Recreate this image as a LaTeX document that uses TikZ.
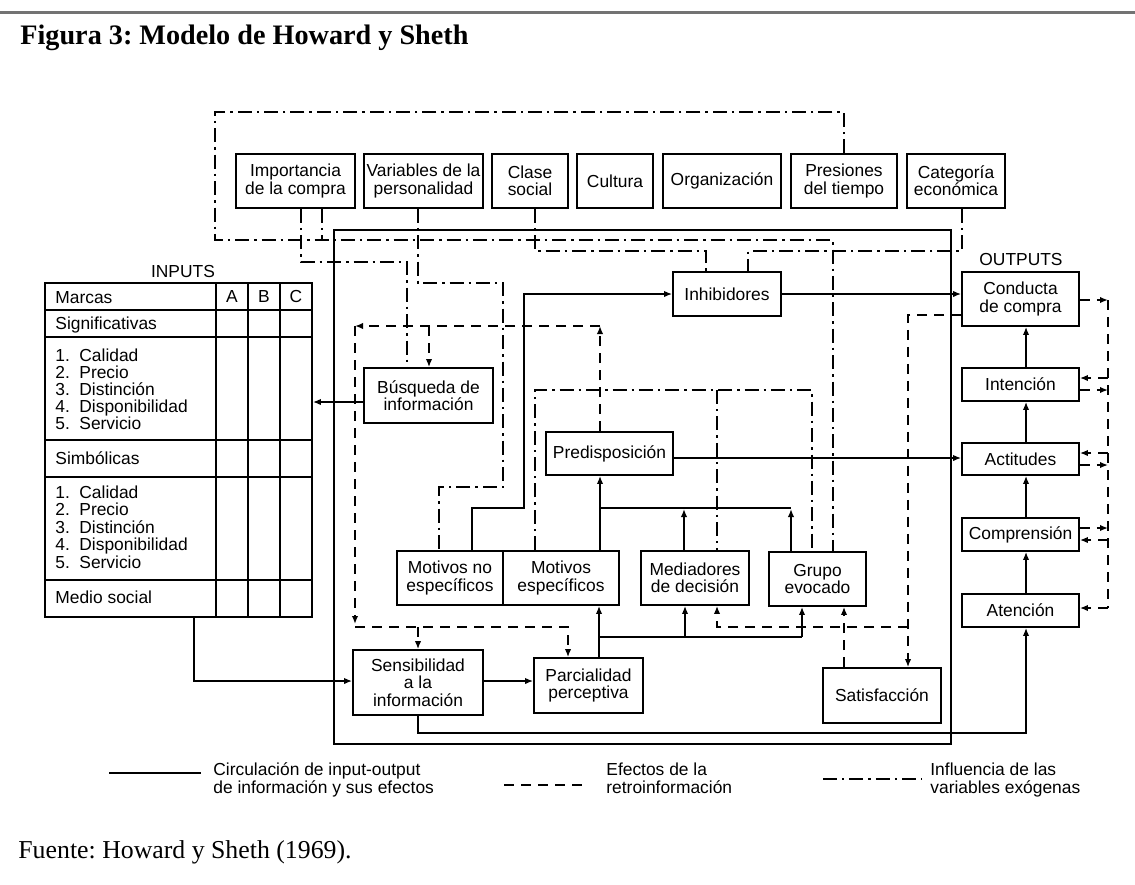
\documentclass[tikz,border=0pt]{standalone}
\usepackage{fontspec}
\setmainfont{Liberation Serif}
\newfontfamily\diagfont{Liberation Sans}
\usetikzlibrary{arrows.meta}
\frenchspacing

\begin{document}
\begin{tikzpicture}[x=0.5pt,y=-0.5pt,
  txt/.style={font=\diagfont\fontsize{8.7}{8.65}\selectfont, inner sep=0pt},
  cell/.style={txt, anchor=base west},
  box/.style={txt, draw, line width=0.9pt, align=center},
  wh/.style 2 args={minimum width=#1*0.5pt, minimum height=#2*0.5pt},
  flow/.style={line width=0.75pt},
  fb/.style={line width=0.75pt, dash pattern=on 5pt off 3.5pt},
  exo/.style={line width=0.75pt, dash pattern=on 7pt off 2.5pt on 1.2pt off 2.5pt},
  tip/.style={-{Latex[length=4pt,width=3.2pt]}}
]
\useasboundingbox (0,0) rectangle (1135,884);

% page rule, caption and source
\draw[line width=1.5pt, black!55] (0,12) -- (1135,12);
\node[anchor=base west, inner sep=0pt, font=\fontsize{14.1}{17}\selectfont\bfseries] (title) at (20,44) {Figura 3: Modelo de Howard y Sheth};
\node[anchor=base west, inner sep=0pt, font=\fontsize{12.9}{15}\selectfont] (src) at (18,858) {Fuente: Howard y Sheth (1969).};

% exogenous variables
\node[box, wh={119}{54}] (imp) at (295.5,181) {Importancia\\de la compra};
\node[box, wh={119}{54}] (var) at (423.5,181) {Variables de la\\personalidad};
\node[box, wh={76}{54}]  (cla) at (530,181) {Clase\\social};
\node[box, wh={76}{54}]  (cul) at (615,181) {Cultura};
\node[box, wh={118}{54}] (org) at (722,181) {Organización};
\node[box, wh={106}{54}] (pre) at (844,181) {Presiones\\del tiempo};
\node[box, wh={98}{54}]  (cat) at (956,181) {Categoría\\económica};

% inner frame of the buyer
\draw[line width=0.9pt] (334,230) rectangle (951,744);

% internal constructs
\node[box, wh={108}{44}] (inh) at (727,294) {Inhibidores};
\node[box, wh={129}{55}] (bus) at (428.5,395.5) {Búsqueda de\\información};
\node[box, wh={127}{43}] (prd) at (609.5,453.5) {Predisposición};
\node[box, wh={106}{54}] (mne) at (450,578) {Motivos no\\específicos};
\node[box, wh={116}{54}] (mes) at (561,578) {Motivos\\específicos};
\node[box, wh={108}{54}] (med) at (695,578) {Mediadores\\de decisión};
\node[box, wh={97}{54}]  (gru) at (817.5,579) {Grupo\\evocado};
\node[box, wh={130}{65}] (sen) at (418,682.5) {Sensibilidad\\a la\\información};
\node[box, wh={109}{55}] (par) at (588.5,685.5) {Parcialidad\\perceptiva};
\node[box, wh={118}{55}] (sat) at (882,695.5) {Satisfacción};

% outputs
\node[txt] (outl) at (1021,260) {OUTPUTS};
\node[box, wh={117}{54}] (con) at (1020.5,299) {Conducta\\de compra};
\node[box, wh={117}{33}] (int) at (1020.5,384.5) {Intención};
\node[box, wh={117}{32}] (act) at (1020.5,459) {Actitudes};
\node[box, wh={117}{33}] (com) at (1020.5,534.5) {Comprensión};
\node[box, wh={117}{33}] (ate) at (1020.5,610.5) {Atención};

% inputs table
\node[txt] (inl) at (183,272) {INPUTS};
\node[draw, line width=0.9pt, wh={267}{334}, inner sep=0pt] (tab) at (178.5,450) {};
\foreach \yy in {310,337,440,477,580} \draw[line width=0.9pt] (tab.west |- 0,\yy) -- (tab.east |- 0,\yy);
\foreach \xx in {216,248,280} \draw[line width=0.9pt] (tab.north -| \xx,0) -- (tab.south -| \xx,0);
\node[cell] (tmar) at (55,303) {Marcas};
\node[txt] (ta) at (232,297) {A};
\node[txt] (tb) at (264,297) {B};
\node[txt] (tc) at (296,297) {C};
\node[cell] (tsig) at (55,329) {Significativas};
\node[cell] (tsim) at (55,464) {Simbólicas};
\node[cell] (tmed) at (55,603) {Medio social};
\foreach \n/\w [count=\i] in {1/Calidad,2/Precio,3/Distinción,4/Disponibilidad,5/Servicio}{
  \node[cell] (na\i) at (55,361+17.2*\i-17.2) {\n.};
  \node[cell] (wa\i) at (79,361+17.2*\i-17.2) {\w};
  \node[cell] (nb\i) at (55,498+17.5*\i-17.5) {\n.};
  \node[cell] (wb\i) at (79,498+17.5*\i-17.5) {\w};
}

% exogenous influences
\draw[exo] (pre.north) -- (pre.north |- 0,112) -- (215,112) -- (215,240) -- (833,240) -- (833,0 |- gru.north);
\draw[exo] (imp.south -| 322,0) -- (322,240);
\draw[exo] (imp.south -| 301,0) -- (301,262) -- (407,262) -- (407,0 |- bus.north);
\draw[exo] (var.south -| 418,0) -- (418,283) -- (503,283) -- (503,487) -- (439,487) -- (439,0 |- mne.north);
\draw[exo] (cla.south -| 535,0) -- (535,251) -- (706,251) -- (706,0 |- inh.north);
\draw[exo] (cat.south -| 962,0) -- (962,251) -- (748,251) -- (748,0 |- inh.north);
\draw[exo] (535,0 |- mes.north) -- (535,390) -- (812,390) -- (812,0 |- gru.north);
\draw[exo] (717,390) -- (717,0 |- med.north);

% input-output flow
\draw[flow, tip] (tab.south -| 194,0) -- (194,681) -- (sen.west |- 0,681);
\draw[flow, tip] (sen.east |- 0,681) -- (par.west |- 0,681);
\draw[flow, tip] (par.north -| 599,0) -- (mes.south -| 599,0);
\draw[flow] (599,637) -- (802,637);
\draw[flow, tip] (685,637) -- (med.south -| 685,0);
\draw[flow, tip] (802,637) -- (gru.south -| 802,0);
\draw[flow, tip] (mne.north -| 472,0) -- (472,508) -- (524,508) -- (524,294) -- (inh.west);
\draw[flow, tip] (mes.north -| 600,0) -- (prd.south -| 600,0);
\draw[flow] (600,508) -- (791,508);
\draw[flow, tip] (med.north -| 684,0) -- (684,509);
\draw[flow, tip] (gru.north -| 791,0) -- (791,509);
\draw[flow, tip] (prd.east |- 0,458) -- (act.west |- 0,458);
\draw[flow, tip] (inh.east) -- (con.west |- inh.east);
\draw[flow, tip] (bus.west |- 0,402) -- (tab.east |- 0,402);
\draw[flow, tip] (sen.south) -- (418,733) -- (1026,733) -- (ate.south -| 1026,0);
\draw[flow, tip] (ate.north -| 1026,0) -- (com.south -| 1026,0);
\draw[flow, tip] (com.north -| 1026,0) -- (act.south -| 1026,0);
\draw[flow, tip] (act.north -| 1026,0) -- (int.south -| 1026,0);
\draw[flow, tip] (int.north -| 1026,0) -- (con.south -| 1026,0);

% feedback effects
\draw[fb, tip] (prd.north -| 600,0) -- (600,326);
\draw[fb, tip] (600,326) -- (355,326);
\draw[fb, tip] (355,326) -- (355,624);
\draw[fb, tip] (355,627) -- (568,627) -- (par.north -| 568,0);
\draw[fb, tip] (429,326) -- (bus.north -| 429,0);
\draw[fb, tip] (418,627) -- (sen.north);
\draw[fb, tip] (con.west |- 0,315) -- (908,315) -- (sat.north -| 908,0);
\draw[fb, tip] (908,627) -- (717,627) -- (med.south -| 717,0);
\draw[fb, tip] (sat.north -| 844,0) -- (gru.south -| 844,0);
\draw[fb] (1108,300) -- (1108,608);
\draw[fb, tip] (con.east |- 0,300) -- (1108,300);
\draw[fb, tip] (1108,378) -- (int.east |- 0,378);
\draw[fb, tip] (int.east |- 0,390) -- (1108,390);
\draw[fb, tip] (1108,453) -- (act.east |- 0,453);
\draw[fb, tip] (act.east |- 0,465) -- (1108,465);
\draw[fb, tip] (com.east |- 0,528) -- (1108,528);
\draw[fb, tip] (1108,540) -- (com.east |- 0,540);
\draw[fb, tip] (1108,608) -- (ate.east |- 0,608);

% legend (base anchor sits on the second line of each label)
\coordinate (l1a) at (109,773); \coordinate (l1b) at (201,773);
\draw[flow, line width=1pt] (l1a) -- (l1b);
\node[txt, anchor=base west, align=left] (lt1) at (213,793) {Circulación de input-output\\de información y sus efectos};
\coordinate (l2a) at (504,785); \coordinate (l2b) at (584,785);
\draw[fb] (l2a) -- (l2b);
\node[txt, anchor=base west, align=left] (lt2) at (606,793) {Efectos de la\\retroinformación};
\coordinate (l3a) at (823,779); \coordinate (l3b) at (922,779);
\draw[exo] (l3a) -- (l3b);
\node[txt, anchor=base west, align=left] (lt3) at (930,793) {Influencia de las\\variables exógenas};
\end{tikzpicture}
\end{document}
